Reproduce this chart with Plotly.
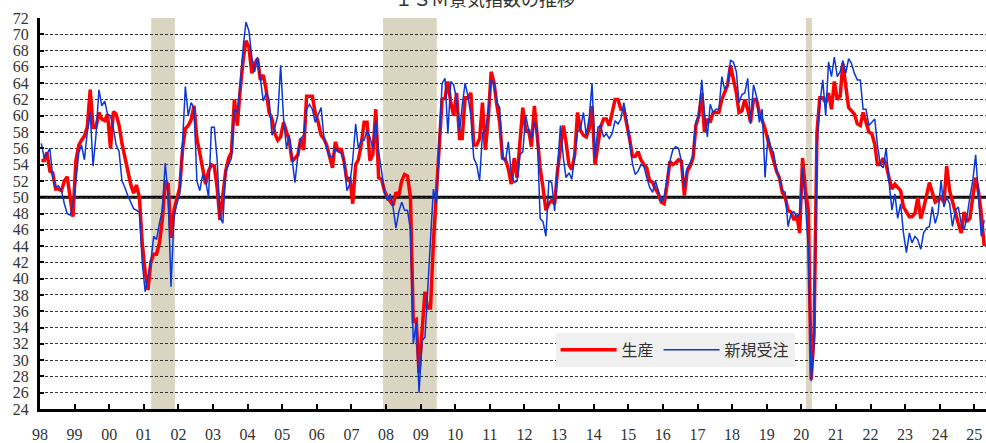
import pandas as pd
import plotly.graph_objects as go

# ---- data: ISM production (生産) and new orders (新規受注), monthly Jan-1998 .. Apr-2025 ----
prod_1998 = [54.5, 54.5, 55.5, 53.2, 53.0, 51.0, 51.0, 50.8, 52.0, 52.5, 50.0, 47.6]
prod_1999 = [54.5, 56.4, 57.0, 57.5, 58.6, 63.2, 58.6, 58.6, 60.4, 59.6, 59.4, 60.2]
prod_2000 = [56.0, 60.5, 60.2, 58.8, 56.6, 54.8, 53.6, 51.6, 50.5, 51.5, 50.0, 44.4]
prod_2001 = [40.8, 38.6, 42.0, 43.0, 43.0, 44.4, 47.2, 51.8, 51.6, 45.0, 48.4, 50.0]
prod_2002 = [51.2, 56.0, 58.4, 58.8, 59.5, 61.2, 57.2, 55.4, 53.6, 51.6, 53.2, 54.0]
prod_2003 = [53.8, 51.0, 47.2, 50.0, 53.2, 54.8, 55.5, 62.0, 58.8, 63.2, 66.8, 69.2]
prod_2004 = [68.4, 65.2, 66.4, 67.0, 64.4, 65.0, 63.2, 60.4, 59.6, 57.8, 57.0, 57.4]
prod_2005 = [59.2, 58.0, 57.0, 54.4, 54.8, 55.2, 57.2, 55.8, 62.4, 62.4, 62.4, 60.4]
prod_2006 = [59.2, 57.6, 57.2, 56.4, 54.8, 53.6, 56.8, 55.6, 56.0, 54.4, 52.0, 52.4]
prod_2007 = [49.2, 54.0, 54.6, 56.5, 59.2, 59.2, 54.5, 55.2, 60.8, 52.4, 52.2, 50.8]
prod_2008 = [50.0, 49.4, 49.0, 50.6, 50.2, 52.0, 52.8, 52.6, 50.0, 34.8, 35.0, 28.4]
prod_2009 = [34.0, 38.4, 36.4, 36.4, 44.4, 50.4, 56.0, 62.0, 62.2, 64.2, 61.6, 60.0]
prod_2010 = [62.8, 57.2, 57.2, 62.2, 62.2, 62.8, 56.4, 56.4, 57.2, 61.6, 55.8, 59.6]
prod_2011 = [65.4, 64.0, 61.4, 59.2, 54.8, 54.6, 53.5, 51.6, 54.8, 52.4, 56.8, 61.0]
prod_2012 = [58.2, 58.2, 56.2, 61.2, 57.6, 53.6, 51.2, 48.4, 49.2, 49.6, 49.2, 53.2]
prod_2013 = [56.0, 58.8, 56.8, 54.0, 53.4, 55.2, 60.4, 58.2, 57.6, 57.4, 58.4, 61.2]
prod_2014 = [54.0, 56.8, 58.6, 59.6, 59.6, 58.8, 60.4, 62.0, 62.0, 60.8, 60.8, 59.2]
prod_2015 = [57.2, 55.0, 55.0, 55.6, 54.6, 54.0, 53.6, 52.0, 51.8, 51.0, 50.4, 49.4]
prod_2016 = [49.2, 51.6, 54.4, 54.0, 54.2, 54.6, 54.4, 50.2, 53.2, 53.8, 54.8, 58.8]
prod_2017 = [60.0, 62.8, 58.0, 59.6, 59.2, 60.4, 60.4, 60.4, 62.0, 62.8, 63.8, 66.2]
prod_2018 = [64.4, 62.8, 60.4, 60.6, 62.0, 60.8, 59.2, 62.0, 62.0, 60.4, 59.4, 58.4]
prod_2019 = [57.0, 55.6, 54.4, 53.2, 52.4, 50.6, 50.0, 48.4, 48.2, 47.2, 47.8, 45.6]
prod_2020 = [54.8, 50.8, 48.4, 27.6, 33.2, 58.0, 62.2, 62.2, 61.6, 62.8, 60.8, 64.2]
prod_2021 = [62.0, 62.4, 66.4, 64.0, 61.0, 60.6, 60.2, 59.0, 58.8, 60.4, 59.2, 58.0]
prod_2022 = [57.8, 56.5, 54.0, 54.0, 54.8, 54.0, 52.4, 51.0, 51.6, 51.2, 50.8, 48.8]
prod_2023 = [48.2, 47.6, 47.6, 48.0, 50.0, 47.4, 48.6, 50.4, 51.8, 50.6, 49.4, 49.6]
prod_2024 = [50.0, 49.4, 53.8, 50.8, 49.4, 48.0, 46.8, 45.6, 48.2, 47.0, 47.4, 50.0]
prod_2025 = [52.4, 50.6, 48.0, 44.0]

ord_1998 = [56.6, 54.8, 55.3, 56.0, 52.5, 51.2, 51.4, 50.8, 49.2, 48.0, 47.8, 49.2]
ord_1999 = [52.0, 55.5, 56.4, 54.6, 58.0, 60.4, 53.8, 57.6, 63.2, 61.2, 61.8, 60.2]
ord_2000 = [60.0, 58.4, 56.4, 55.6, 52.0, 51.2, 50.2, 49.4, 48.6, 48.4, 48.2, 42.0]
ord_2001 = [38.4, 40.4, 42.0, 45.2, 44.8, 46.8, 48.4, 54.2, 50.0, 39.0, 47.6, 49.2]
ord_2002 = [50.4, 57.0, 63.6, 60.0, 61.6, 61.0, 52.0, 50.8, 52.8, 52.0, 50.0, 58.6]
ord_2003 = [58.6, 54.4, 47.6, 46.8, 53.2, 54.0, 54.8, 60.8, 60.4, 63.6, 68.4, 71.5]
ord_2004 = [70.4, 67.2, 65.4, 67.2, 64.4, 61.8, 62.8, 62.0, 57.6, 58.6, 60.0, 66.2]
ord_2005 = [59.6, 56.0, 57.6, 54.4, 51.8, 55.2, 57.2, 57.6, 60.8, 61.4, 60.8, 59.2]
ord_2006 = [60.0, 61.0, 57.6, 56.0, 55.0, 55.0, 56.0, 55.6, 55.4, 54.4, 50.8, 51.6]
ord_2007 = [54.6, 59.0, 56.0, 57.0, 57.0, 58.2, 57.4, 56.0, 59.4, 55.6, 53.2, 50.6]
ord_2008 = [49.6, 50.4, 48.8, 46.2, 48.2, 49.4, 48.4, 48.4, 46.0, 32.0, 34.6, 26.0]
ord_2009 = [32.4, 32.8, 38.4, 44.4, 51.0, 49.2, 56.4, 64.0, 64.6, 57.8, 64.2, 63.8]
ord_2010 = [62.0, 58.0, 61.2, 64.0, 62.4, 60.0, 54.8, 54.0, 52.0, 57.8, 58.2, 60.4]
ord_2011 = [64.4, 64.0, 61.6, 61.0, 54.8, 54.4, 56.8, 53.0, 51.8, 52.0, 55.2, 55.6]
ord_2012 = [60.0, 58.2, 57.2, 59.2, 58.0, 47.4, 47.0, 45.2, 52.0, 51.8, 48.3, 53.2]
ord_2013 = [58.8, 54.8, 52.4, 53.0, 52.2, 55.2, 58.0, 58.4, 60.4, 57.6, 59.8, 64.0]
ord_2014 = [54.8, 58.6, 58.8, 57.4, 57.8, 57.2, 57.8, 59.4, 59.0, 59.6, 61.6, 59.6]
ord_2015 = [56.8, 54.1, 52.8, 53.2, 54.0, 53.8, 52.4, 51.2, 50.6, 52.0, 50.8, 49.4]
ord_2016 = [50.0, 52.5, 54.4, 55.8, 56.2, 56.0, 54.4, 51.2, 53.6, 54.2, 55.2, 59.2]
ord_2017 = [60.0, 64.4, 60.4, 57.4, 61.4, 60.4, 60.8, 60.8, 64.8, 63.2, 63.8, 66.8]
ord_2018 = [66.6, 65.4, 61.6, 62.6, 62.8, 64.6, 59.0, 63.8, 62.4, 59.2, 60.8, 52.4]
ord_2019 = [57.6, 56.0, 55.5, 53.2, 52.4, 50.8, 50.6, 46.4, 48.0, 48.2, 47.6, 48.0]
ord_2020 = [53.6, 49.2, 43.6, 27.4, 32.0, 56.4, 61.5, 64.4, 60.0, 66.6, 64.8, 67.2]
ord_2021 = [64.8, 65.4, 66.8, 65.2, 67.0, 66.4, 65.2, 64.4, 64.4, 60.8, 60.8, 58.8]
ord_2022 = [59.2, 59.6, 56.4, 54.0, 53.6, 56.0, 52.0, 48.4, 50.4, 47.4, 49.2, 45.6]
ord_2023 = [43.2, 45.6, 44.4, 45.2, 44.8, 43.6, 45.6, 46.2, 46.4, 48.8, 46.8, 48.0]
ord_2024 = [52.0, 48.8, 50.0, 49.2, 46.4, 48.4, 48.8, 46.8, 46.0, 47.6, 50.0, 52.0]
ord_2025 = [55.2, 49.2, 45.2, 47.2]

production = (prod_1998 + prod_1999 + prod_2000 + prod_2001 + prod_2002 + prod_2003 + prod_2004
              + prod_2005 + prod_2006 + prod_2007 + prod_2008 + prod_2009 + prod_2010 + prod_2011
              + prod_2012 + prod_2013 + prod_2014 + prod_2015 + prod_2016 + prod_2017 + prod_2018
              + prod_2019 + prod_2020 + prod_2021 + prod_2022 + prod_2023 + prod_2024 + prod_2025)
new_orders = (ord_1998 + ord_1999 + ord_2000 + ord_2001 + ord_2002 + ord_2003 + ord_2004
              + ord_2005 + ord_2006 + ord_2007 + ord_2008 + ord_2009 + ord_2010 + ord_2011
              + ord_2012 + ord_2013 + ord_2014 + ord_2015 + ord_2016 + ord_2017 + ord_2018
              + ord_2019 + ord_2020 + ord_2021 + ord_2022 + ord_2023 + ord_2024 + ord_2025)

series_names = ["生産", "新規受注"]
title_text = "ＩＳＭ景気指数の推移"

# categories: months, plotted mid-month
months = pd.date_range("1998-01-01", periods=len(production), freq="MS") + pd.Timedelta(days=14)

# tick labels
tick_years = list(range(1998, 2026))
tick_labels = [str(y)[2:] for y in tick_years]
y_ticks = list(range(24, 73, 2))

# recession periods (shaded)
recessions = [("2001-03-20", "2001-11-25"), ("2007-12-01", "2009-06-20"), ("2020-02-20", "2020-04-22")]

# ---- figure ----
fig = go.Figure()
fig.add_trace(go.Scatter(x=months, y=production, mode="lines", name=series_names[0],
                         line=dict(color="#FF0000", width=3.5)))
fig.add_trace(go.Scatter(x=months, y=new_orders, mode="lines", name=series_names[1],
                         line=dict(color="#0A37D8", width=1.5)))

shapes = []
for s, e in recessions:
    shapes.append(dict(type="rect", xref="x", yref="paper", x0=s, x1=e, y0=0, y1=1,
                       fillcolor="#D9D5C1", line=dict(width=0), layer="between"))
shapes.append(dict(type="line", xref="paper", yref="y", x0=0, x1=1, y0=50, y1=50,
                   line=dict(color="black", width=3), layer="between"))

serif = "Liberation Serif, DejaVu Serif, Noto Sans CJK JP, serif"

fig.update_layout(
    width=986, height=443, autosize=False,
    margin=dict(l=40, r=0, t=18, b=25),
    paper_bgcolor="white", plot_bgcolor="white",
    font=dict(family=serif, size=16, color="#333333"),
    shapes=shapes,
    showlegend=True,
    legend=dict(orientation="h", x=0.545, y=0.195, xanchor="left", yanchor="top",
                bgcolor="#F0F0F0", borderwidth=0,
                font=dict(family="Noto Sans CJK JP", size=16, color="#333333"),
                itemwidth=56),
    annotations=[dict(text=title_text, xref="paper", yref="paper", x=0.47, y=1.052,
                      xanchor="center", yanchor="middle", showarrow=False,
                      font=dict(family="Noto Sans CJK JP, serif", size=18, color="#333333"))],
    xaxis=dict(type="date", range=["1998-01-01", "2025-05-04"],
               tickvals=[f"{y}-01-01" for y in tick_years], ticktext=tick_labels,
               showgrid=False, zeroline=False,
               showline=True, linecolor="black", linewidth=3,
               ticks="inside", ticklen=5, tickwidth=2, tickcolor="black",
               tickfont=dict(family=serif, size=16, color="#333333"),
               ticklabelstandoff=9),
    yaxis=dict(range=[24, 72], tickvals=y_ticks, ticktext=[str(v) for v in y_ticks],
               showgrid=True, gridcolor="#333333", gridwidth=1, griddash="3px,2px",
               zeroline=False,
               showline=True, linecolor="black", linewidth=3,
               ticks="inside", ticklen=4, tickwidth=2, tickcolor="black",
               tickfont=dict(family=serif, size=16, color="#333333"),
               ticklabelstandoff=5),
)

fig.write_html("out.html", config={"displayModeBar": False},
               post_script="document.body.style.margin='0';")
